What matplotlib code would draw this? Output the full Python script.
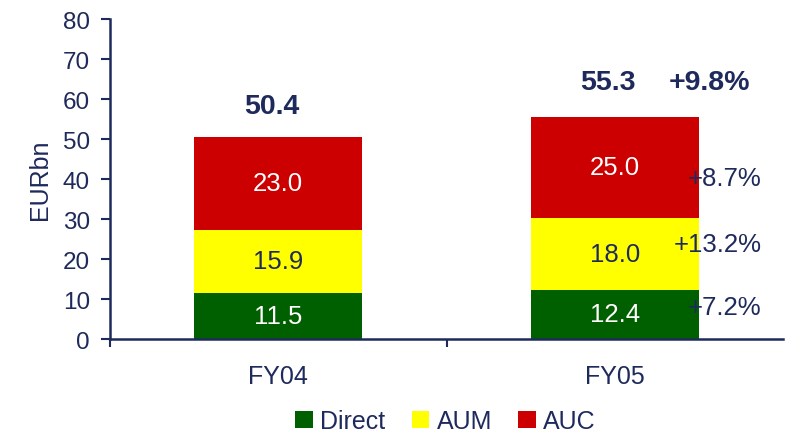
import matplotlib
matplotlib.use("Agg")
import matplotlib.pyplot as plt
import numpy as np

plt.rcParams['font.family'] = ['Liberation Sans', 'DejaVu Sans']

years = ['FY04', 'FY05']
direct = [11.5, 12.4]
aum = [15.9, 18.0]
auc = [23.0, 25.0]
totals = [50.4, 55.3]
total_growth = '+9.8%'
seg_growth = ['+7.2%', '+13.2%', '+8.7%']   # Direct, AUM, AUC
growth_y = [8.0, 23.75, 40.25]

navy = '#1f2a5c'
green = '#006000'
yellow = '#ffff00'
red = '#cc0000'

fig = plt.figure(figsize=(7.85, 4.35), dpi=100)
ax = fig.add_axes([0.140, 0.218, 0.858, 0.736])

x = np.arange(len(years))
w = 0.5
b1 = ax.bar(x, direct, w, color=green, label='Direct')
b2 = ax.bar(x, aum, w, bottom=direct, color=yellow, label='AUM')
bottom2 = [d + a for d, a in zip(direct, aum)]
b3 = ax.bar(x, auc, w, bottom=bottom2, color=red, label='AUC')

# values inside the segments
for i in range(len(years)):
    ax.text(x[i], direct[i] / 2, f'{direct[i]:.1f}', ha='center', va='center',
            color='white', fontsize=18.5)
    ax.text(x[i], direct[i] + aum[i] / 2, f'{aum[i]:.1f}', ha='center',
            va='center', color=navy, fontsize=18.5)
    ax.text(x[i], bottom2[i] + auc[i] / 2, f'{auc[i]:.1f}', ha='center',
            va='center', color='white', fontsize=18.5)

# totals on top
ax.text(x[0] - 0.02, totals[0] + 7.9, f'{totals[0]:.1f}', ha='center',
        va='center', color=navy, fontsize=20.5, fontweight='bold')
ax.text(x[1] - 0.02, totals[1] + 9.0, f'{totals[1]:.1f}', ha='center',
        va='center', color=navy, fontsize=20.5, fontweight='bold')
ax.text(x[1] + 0.28, totals[1] + 9.0, total_growth, ha='center',
        va='center', color=navy, fontsize=20.5, fontweight='bold')

# growth per segment
for g, gy in zip(seg_growth, growth_y):
    ax.text(x[1] + 0.435, gy, g, ha='right', va='center', color=navy,
            fontsize=18.5)

ax.set_xlim(-0.5, 1.5)
ax.set_ylim(0, 80)
ax.set_yticks(range(0, 81, 10))
ax.set_xticks(x)
ax.set_xticklabels(years)
ax.set_xticks([-0.5, 0.5], minor=True)
ax.tick_params(axis='x', which='major', length=0, pad=18, labelsize=18,
               colors=navy)
ax.tick_params(axis='x', which='minor', length=6, width=1.5, color=navy)
ax.tick_params(axis='y', length=6.5, width=1.5, color=navy, labelsize=17.5,
               labelcolor=navy, pad=8)
ax.set_ylabel('EURbn', color=navy, fontsize=18, labelpad=8)

for s in ['top', 'right']:
    ax.spines[s].set_visible(False)
for s in ['left', 'bottom']:
    ax.spines[s].set_color(navy)
    ax.spines[s].set_linewidth(1.8)

leg = fig.legend(handles=[b1, b2, b3], loc='lower center',
                 bbox_to_anchor=(0.5675, -0.05), ncol=3, frameon=False,
                 fontsize=18, handlelength=0.7, handleheight=0.7,
                 handletextpad=0.3, columnspacing=1.05)
for t in leg.get_texts():
    t.set_color(navy)

fig.savefig('out.png', dpi=100)
